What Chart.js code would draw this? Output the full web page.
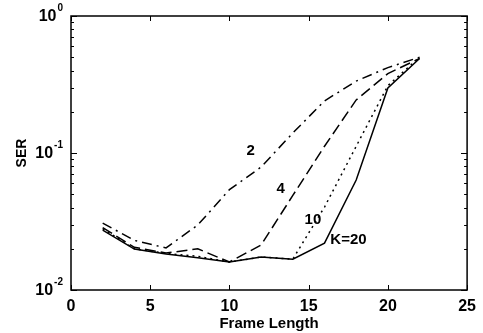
<!DOCTYPE html>
<html><head><meta charset="utf-8">
<script src="https://cdn.jsdelivr.net/npm/chart.js@4/dist/chart.umd.min.js"></script>
<style>html,body{margin:0;padding:0;background:#fff}#wrap{width:483px;height:333px}</style>
</head><body><div id="wrap"><canvas id="c" width="483" height="333"></canvas></div>
<script>
const frameLength = [2, 4, 6, 8, 10, 12, 14, 16, 18, 20, 22];
const serK2  = [0.0308, 0.0230, 0.0203, 0.0298, 0.054, 0.079, 0.140, 0.240, 0.335, 0.420, 0.50];
const serK4  = [0.0285, 0.0205, 0.0186, 0.0200, 0.0160, 0.0213, 0.049, 0.112, 0.244, 0.380, 0.49];
const serK10 = [0.0280, 0.0200, 0.0185, 0.0176, 0.0160, 0.0174, 0.0168, 0.0403, 0.112, 0.310, 0.50];
const serK20 = [0.0274, 0.0199, 0.0183, 0.0172, 0.0160, 0.0174, 0.0168, 0.0220, 0.0635, 0.298, 0.49];
const xTicks = [0, 5, 10, 15, 20, 25];
const yTicks = [0.01, 0.1, 1];
const yTickExp = ['-2', '-1', '0'];
const curveLabels = [
  {text: '2', x: 11.08, y: 0.1035},
  {text: '4', x: 12.97, y: 0.0546},
  {text: '10', x: 14.74, y: 0.0324},
  {text: 'K=20', x: 16.37, y: 0.0232}
];

const FONT = '"Liberation Sans", Arial, sans-serif';
const pts = arr => arr.map((v, i) => ({x: frameLength[i], y: v}));
const ds = (label, data, dash) => ({label, data: pts(data), borderColor: '#000', borderWidth: 1.5,
  borderDash: dash, pointRadius: 0, fill: false, tension: 0});

const decor = {
  id: 'decor',
  afterDraw(chart) {
    const ctx = chart.ctx, a = chart.chartArea, xs = chart.scales.x, ys = chart.scales.y;
    ctx.save();
    ctx.strokeStyle = '#000'; ctx.lineWidth = 1.5;
    ctx.strokeRect(a.left, a.top, a.right - a.left, a.bottom - a.top);
    ctx.lineWidth = 1;
    ctx.beginPath();
    xTicks.forEach(v => {
      const px = Math.round(xs.getPixelForValue(v)) + 0.5;
      ctx.moveTo(px, a.bottom); ctx.lineTo(px, a.bottom - 5);
      ctx.moveTo(px, a.top); ctx.lineTo(px, a.top + 5);
    });
    for (let e = -2; e < 0; e++) {
      for (let m = 1; m <= 10; m++) {
        const v = m * Math.pow(10, e);
        const py = Math.round(ys.getPixelForValue(v)) + 0.5;
        const len = (m === 1 || m === 10) ? 6 : 3;
        ctx.moveTo(a.left, py); ctx.lineTo(a.left + len, py);
        ctx.moveTo(a.right, py); ctx.lineTo(a.right - len, py);
      }
    }
    ctx.stroke();
    // y tick labels with superscript exponents
    ctx.fillStyle = '#000';
    ctx.textBaseline = 'middle';
    ctx.textAlign = 'left';
    yTicks.forEach((v, i) => {
      const py = ys.getPixelForValue(v);
      ctx.font = 'bold 10px ' + FONT;
      const ew = ctx.measureText(yTickExp[i]).width;
      ctx.font = 'bold 16px ' + FONT;
      const bw = ctx.measureText('10').width;
      const xEnd = a.left - 8;
      const x0 = xEnd - ew - bw - 1;
      ctx.fillText('10', x0, py + 1);
      ctx.font = 'bold 10px ' + FONT;
      ctx.fillText(yTickExp[i], x0 + bw + 1, py - 8);
    });
    // curve labels
    ctx.font = 'bold 15px ' + FONT;
    curveLabels.forEach(l => {
      ctx.fillText(l.text, xs.getPixelForValue(l.x), ys.getPixelForValue(l.y));
    });
    ctx.restore();
  }
};

new Chart(document.getElementById('c'), {
  type: 'line',
  data: {datasets: [
    ds('K=2', serK2, [10, 5, 2, 5]),
    ds('K=4', serK4, [11, 5]),
    ds('K=10', serK10, [2, 4]),
    ds('K=20', serK20, [])
  ]},
  options: {
    responsive: false, animation: false, devicePixelRatio: 1,
    layout: {padding: {top: 16, right: 15, left: 0, bottom: 0}},
    plugins: {legend: {display: false}, tooltip: {enabled: false}},
    scales: {
      x: {type: 'linear', min: 0, max: 25,
        afterBuildTicks: s => { s.ticks = xTicks.map(v => ({value: v})); },
        grid: {display: false, drawTicks: false}, border: {display: false},
        ticks: {color: '#000', padding: 7, font: {size: 16, family: FONT, weight: 'bold'}},
        title: {display: true, text: 'Frame Length', color: '#000', padding: {top: 0, bottom: 0},
          font: {size: 15, family: FONT, weight: 'bold'}},
        afterFit: s => { s.height = 43; }
      },
      y: {type: 'logarithmic', min: 0.01, max: 1,
        grid: {display: false, drawTicks: false}, border: {display: false},
        ticks: {display: false},
        title: {display: true, text: 'SER', color: '#000', padding: {top: 14, bottom: 0},
          font: {size: 14, family: FONT, weight: 'bold'}},
        afterFit: s => { s.width = 71; }
      }
    }
  },
  plugins: [decor]
});
</script></body></html>
